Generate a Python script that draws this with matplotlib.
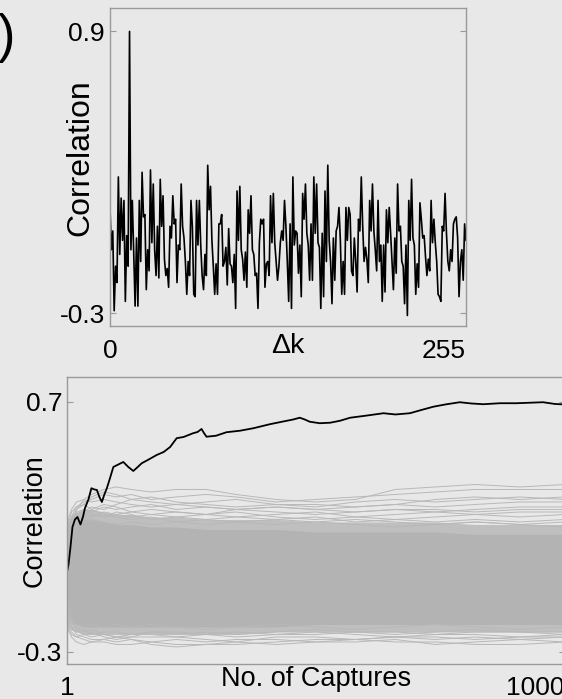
import numpy as np
import matplotlib
matplotlib.use("Agg")
import matplotlib.pyplot as plt

plt.rcParams['font.family'] = ['Liberation Sans', 'DejaVu Sans']

# ---- top panel: correlation vs key guess offset ----
corr_dk_a = [0.15, -0.03, 0.05, -0.29, -0.10, -0.17, 0.28, -0.05, 0.19, 0.01,
             0.18, -0.25, 0.03, -0.10, 0.90, -0.03, 0.18, -0.05, -0.27, 0.02,
             -0.27, 0.18, -0.08, 0.30, 0.11, 0.12, -0.20, -0.03, -0.12, 0.31,
             0.00, 0.25, -0.03, -0.14, 0.07, -0.15, 0.27, 0.07, 0.20, -0.07,
             -0.14, -0.11, -0.19, 0.07, 0.02, 0.20, 0.08, 0.10, -0.17, -0.01,
             -0.03, 0.25, 0.07, 0.02, -0.08, -0.22, -0.08, -0.14, 0.18, 0.07,
             -0.22, -0.23, 0.18, -0.01, 0.18, -0.01, -0.14, -0.20, -0.05, -0.14,
             0.33, 0.14, 0.24, 0.01, -0.10, -0.22, -0.09, -0.22, 0.08, 0.08,
             0.12, -0.10, -0.08, -0.02, -0.18, 0.06]
corr_dk_b = [-0.09, -0.10, -0.17, -0.05, -0.28, 0.22, 0.01, 0.24, -0.03, -0.07,
             -0.16, -0.04, -0.19, 0.14, 0.04, 0.20, -0.03, -0.05, -0.14, -0.13,
             -0.28, 0.00, 0.10, 0.08, 0.10, -0.19, -0.09, -0.08, -0.14, 0.20,
             0.00, 0.21, 0.00, -0.08, -0.16, -0.10, 0.00, 0.05, 0.01, 0.18,
             0.07, -0.08, -0.25, 0.08, -0.28, 0.28, -0.01, 0.05, 0.04, -0.13,
             -0.01, -0.23, 0.21, 0.10, 0.25, 0.04, -0.01, -0.16, 0.08, -0.16,
             0.28, 0.04, 0.25, 0.00, -0.02, -0.28, 0.04, -0.23, 0.22, -0.08,
             0.33, 0.01, -0.08, -0.26, 0.02, -0.16, 0.05, 0.07, 0.15, 0.01,
             -0.22, -0.08, -0.22, 0.15, 0.01, 0.15]
corr_dk_c = [0.12, -0.12, -0.14, 0.02, -0.08, -0.21, 0.10,
             0.05, 0.28, 0.07, -0.08, -0.02, -0.07, -0.17, 0.18, 0.05, 0.25,
             0.05, -0.03, -0.12, 0.18, -0.08, -0.01, -0.25, -0.01, -0.21, 0.14,
             0.00, 0.15, 0.04, -0.08, -0.20, 0.02, -0.13, 0.25, 0.05, 0.07,
             -0.08, -0.10, -0.26, -0.01, -0.31, 0.18, 0.01, 0.27, 0.02, -0.01,
             -0.22, -0.09, -0.19, 0.17, 0.10, 0.02, 0.03, -0.06, -0.14, -0.07,
             -0.12, 0.18, 0.00, 0.10, 0.00, -0.08, -0.22, -0.23, -0.25, 0.07,
             0.05, 0.21, 0.04, -0.08, -0.12, -0.03, -0.08, 0.08, 0.10, 0.11,
             0.02, -0.23, -0.08, -0.03, -0.16, 0.08, 0.01]
corr_dk = np.array(corr_dk_a + corr_dk_b + corr_dk_c)
dk = np.arange(len(corr_dk))

# ---- bottom panel: correct key correlation vs number of captures ----
cap_n = [1, 4, 8, 12, 17, 22, 28, 33, 37, 44, 50, 56, 61, 66, 71, 76, 81, 88,
         94, 104, 114, 124, 134, 143, 151, 165, 181, 195, 208, 221, 235, 254,
         263, 271, 276, 281, 300, 321, 348, 375, 408, 430, 455, 468, 478, 488,
         508, 529, 549, 569, 600, 636, 660, 689, 712, 736, 760, 789, 812, 836,
         870, 903, 930, 956, 980, 1000]
cap_corr = [0.02, 0.05, 0.12, 0.20, 0.23, 0.24, 0.21, 0.24, 0.275, 0.31,
            0.355, 0.35, 0.348, 0.32, 0.30, 0.33, 0.355, 0.40, 0.44, 0.45,
            0.46, 0.44, 0.424, 0.44, 0.455, 0.47, 0.488, 0.50, 0.52, 0.555,
            0.56, 0.575, 0.58, 0.592, 0.575, 0.561, 0.565, 0.579, 0.585, 0.595,
            0.611, 0.62, 0.63, 0.637, 0.63, 0.621, 0.615, 0.617, 0.625, 0.637,
            0.645, 0.655, 0.650, 0.655, 0.668, 0.681, 0.69, 0.699, 0.694, 0.691,
            0.695, 0.695, 0.697, 0.699, 0.692, 0.69]

# wrong key guesses: dense band envelope + the stray lines at its edges
grid_n = [1, 5, 10, 20, 35, 50, 75, 100, 130, 170, 220, 280, 340, 420, 500,
          580, 660, 740, 820, 910, 1000]
band_hi = [0.19, 0.20, 0.21, 0.22, 0.23, 0.23, 0.22, 0.21, 0.21, 0.20, 0.20,
           0.19, 0.19, 0.19, 0.18, 0.18, 0.18, 0.18, 0.17, 0.17, 0.17]
band_lo = [-0.15, -0.16, -0.17, -0.19, -0.20, -0.20, -0.20, -0.20, -0.20,
           -0.20, -0.20, -0.20, -0.20, -0.20, -0.19, -0.19, -0.19, -0.19,
           -0.19, -0.19, -0.19]
# thinner outer zone where the lines are still close together
outer_hi = [0.21, 0.23, 0.25, 0.26, 0.27, 0.27, 0.26, 0.25, 0.25, 0.24, 0.24,
            0.23, 0.23, 0.23, 0.22, 0.22, 0.22, 0.22, 0.21, 0.21, 0.21]
outer_lo = [-0.17, -0.19, -0.21, -0.22, -0.23, -0.23, -0.23, -0.23, -0.23,
            -0.23, -0.23, -0.23, -0.23, -0.22, -0.22, -0.22, -0.22, -0.22,
            -0.22, -0.22, -0.22]
stray_lines = [
    [0.05, 0.15, 0.21, 0.27, 0.31, 0.33, 0.35, 0.36, 0.35, 0.34, 0.35, 0.35, 0.33, 0.31, 0.30, 0.31, 0.35, 0.36, 0.37, 0.36, 0.37],
    [0.10, 0.18, 0.24, 0.28, 0.30, 0.31, 0.33, 0.32, 0.33, 0.31, 0.32, 0.33, 0.32, 0.30, 0.31, 0.32, 0.33, 0.34, 0.35, 0.35, 0.35],
    [0.00, 0.12, 0.18, 0.22, 0.26, 0.28, 0.27, 0.29, 0.31, 0.30, 0.29, 0.30, 0.31, 0.29, 0.28, 0.30, 0.31, 0.30, 0.31, 0.32, 0.31],
    [0.08, 0.16, 0.20, 0.24, 0.27, 0.26, 0.28, 0.27, 0.28, 0.29, 0.27, 0.28, 0.27, 0.28, 0.27, 0.28, 0.29, 0.28, 0.29, 0.30, 0.30],
    [-0.05, 0.06, 0.14, 0.20, 0.24, 0.27, 0.29, 0.28, 0.26, 0.27, 0.26, 0.25, 0.27, 0.26, 0.25, 0.26, 0.27, 0.26, 0.27, 0.28, 0.28],
    [0.12, 0.20, 0.23, 0.25, 0.23, 0.24, 0.26, 0.25, 0.24, 0.25, 0.26, 0.25, 0.24, 0.25, 0.26, 0.24, 0.25, 0.26, 0.25, 0.26, 0.26],
    [0.02, 0.10, 0.17, 0.21, 0.24, 0.25, 0.24, 0.26, 0.25, 0.23, 0.24, 0.25, 0.26, 0.24, 0.23, 0.24, 0.23, 0.24, 0.25, 0.24, 0.25],
    [0.15, 0.22, 0.26, 0.28, 0.29, 0.27, 0.25, 0.24, 0.23, 0.24, 0.22, 0.23, 0.24, 0.23, 0.24, 0.22, 0.23, 0.22, 0.23, 0.22, 0.23],
    [0.18, 0.20, 0.22, 0.23, 0.22, 0.23, 0.22, 0.21, 0.22, 0.21, 0.22, 0.21, 0.22, 0.21, 0.22, 0.21, 0.20, 0.21, 0.22, 0.21, 0.20],
    [0.05, 0.14, 0.21, 0.26, 0.27, 0.25, 0.24, 0.25, 0.26, 0.25, 0.24, 0.23, 0.22, 0.23, 0.22, 0.23, 0.22, 0.21, 0.22, 0.21, 0.22],
    [0.20, 0.24, 0.27, 0.30, 0.31, 0.30, 0.31, 0.30, 0.29, 0.28, 0.29, 0.28, 0.27, 0.28, 0.27, 0.26, 0.27, 0.27, 0.26, 0.27, 0.27],
    [0.10, 0.17, 0.22, 0.27, 0.29, 0.32, 0.34, 0.33, 0.31, 0.32, 0.30, 0.29, 0.28, 0.29, 0.29, 0.28, 0.29, 0.31, 0.32, 0.31, 0.32],
    [-0.15, -0.20, -0.22, -0.24, -0.25, -0.26, -0.26, -0.27, -0.27, -0.26, -0.27, -0.27, -0.27, -0.26, -0.25, -0.25, -0.26, -0.26, -0.27, -0.27, -0.26],
    [-0.10, -0.17, -0.20, -0.23, -0.24, -0.25, -0.25, -0.24, -0.25, -0.26, -0.25, -0.26, -0.25, -0.25, -0.26, -0.26, -0.25, -0.27, -0.26, -0.25, -0.26],
    [-0.18, -0.22, -0.23, -0.24, -0.23, -0.22, -0.24, -0.25, -0.24, -0.24, -0.24, -0.25, -0.26, -0.24, -0.24, -0.25, -0.24, -0.24, -0.25, -0.24, -0.24],
    [-0.05, -0.12, -0.17, -0.21, -0.23, -0.24, -0.23, -0.24, -0.23, -0.23, -0.24, -0.23, -0.24, -0.23, -0.22, -0.23, -0.24, -0.23, -0.23, -0.24, -0.23],
    [-0.14, -0.19, -0.21, -0.22, -0.21, -0.23, -0.22, -0.22, -0.23, -0.22, -0.22, -0.23, -0.22, -0.23, -0.23, -0.22, -0.22, -0.23, -0.22, -0.22, -0.22],
    [-0.08, -0.14, -0.18, -0.20, -0.22, -0.21, -0.23, -0.24, -0.24, -0.22, -0.23, -0.22, -0.23, -0.22, -0.21, -0.22, -0.23, -0.22, -0.21, -0.22, -0.23],
    [-0.12, -0.15, -0.18, -0.19, -0.20, -0.19, -0.20, -0.19, -0.20, -0.19, -0.20, -0.21, -0.20, -0.19, -0.20, -0.21, -0.20, -0.19, -0.20, -0.21, -0.20],
    [-0.16, -0.21, -0.24, -0.26, -0.27, -0.26, -0.25, -0.26, -0.25, -0.27, -0.28, -0.27, -0.26, -0.27, -0.26, -0.25, -0.24, -0.25, -0.24, -0.25, -0.24],
]

bg = '#e8e8e8'
spine_col = '#9a9a9a'
fs = 19

fig = plt.figure(figsize=(5.62, 6.99), dpi=100, facecolor=bg)


def style_axes(ax):
    ax.set_facecolor(bg)
    for s in ax.spines.values():
        s.set_color(spine_col)
        s.set_linewidth(1.0)
    ax.tick_params(axis='y', direction='in', length=4, color=spine_col,
                   left=True, right=True, labelsize=fs, pad=3.5)
    ax.tick_params(axis='x', length=0, labelsize=fs, pad=9)


# top axes
ax1 = fig.add_axes([0.1957, 0.5336, 0.6335, 0.455])
style_axes(ax1)
ax1.plot(dk, corr_dk, color='black', lw=1.2)
ax1.set_xlim(0, 255)
ax1.set_ylim(-0.355, 1.0)
ax1.set_yticks([-0.3, 0.9])
ax1.set_yticklabels(['-0.3', '0.9'])
ax1.set_xticks([0, 255])
ax1.set_xticklabels(['0', '255'])
ax1.get_xticklabels()[1].set_horizontalalignment('right')
ax1.set_xlabel('Δk', fontsize=20.5)
ax1.xaxis.set_label_coords(0.5, -0.022)
ax1.set_ylabel('Correlation', fontsize=23)
ax1.yaxis.set_label_coords(-0.04, 0.53)

# bottom axes
ax2 = fig.add_axes([0.1192, 0.0501, 0.886, 0.4106])
style_axes(ax2)
ax2.fill_between(grid_n, outer_lo, outer_hi, color='#bfbfbf', lw=0)
ax2.fill_between(grid_n, band_lo, band_hi, color='#b3b3b3', lw=0)
for line in stray_lines:
    ax2.plot(grid_n, line, color='#b8b8b8', lw=0.7)
ax2.plot(cap_n, cap_corr, color='black', lw=1.3)
ax2.set_xlim(1, 1000)
ax2.set_ylim(-0.348, 0.8)
ax2.set_yticks([-0.3, 0.7])
ax2.set_yticklabels(['-0.3', '0.7'])
ax2.set_xticks([1, 1000])
ax2.set_xticklabels(['1', '1000'])
ax2.get_xticklabels()[1].set_horizontalalignment('right')
ax2.set_xlabel('No. of Captures', fontsize=19.5)
ax2.xaxis.set_label_coords(0.5, -0.008)
ax2.set_ylabel('Correlation', fontsize=19.5)
ax2.yaxis.set_label_coords(-0.038, 0.5)

# panel label, mostly cut off at the left edge
fig.text(16 / 562, 1 - 38 / 699, '(a)', fontsize=38, ha='right', va='center')

fig.savefig('out.png', dpi=100, facecolor=bg)
